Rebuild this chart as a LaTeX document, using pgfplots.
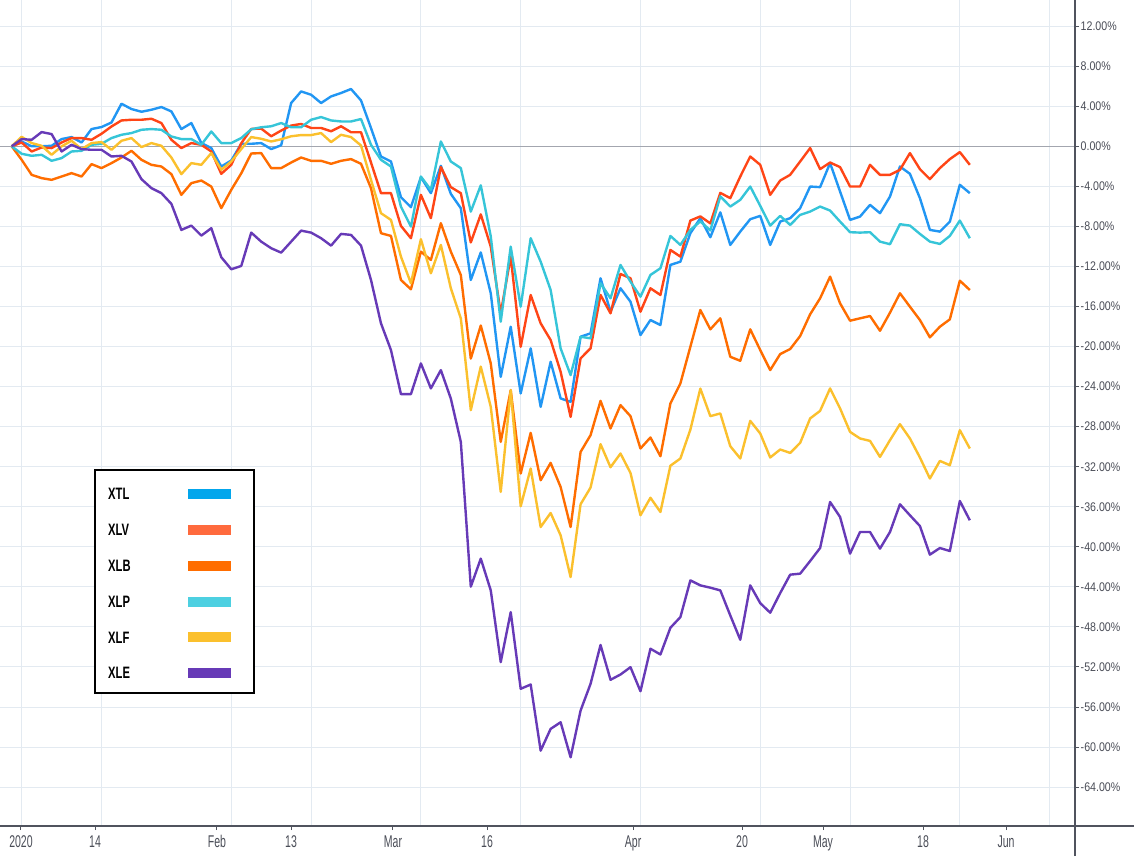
\documentclass[border=0pt]{standalone}
\usepackage{pgfplots}
\pgfplotsset{compat=1.18}
\usepackage{pgfplotstable}
\usepackage{fontspec}
\setmainfont{Liberation Sans}
\newfontfamily\ytfont[FakeStretch=0.85]{Liberation Sans}
\newfontfamily\xtfont[FakeStretch=0.62]{Liberation Sans}
\newfontfamily\lgfont[FakeStretch=0.68]{Liberation Sans}

\definecolor{cXTL}{HTML}{2196F3}
\definecolor{cXLV}{HTML}{FF4516}
\definecolor{cXLB}{HTML}{FF6D00}
\definecolor{cXLP}{HTML}{36C5D8}
\definecolor{cXLF}{HTML}{FBC02D}
\definecolor{cXLE}{HTML}{673AB7}
\definecolor{sXTL}{HTML}{03A6EC}
\definecolor{sXLV}{HTML}{FF6A3D}
\definecolor{sXLP}{HTML}{4DD0E1}
\definecolor{gridcol}{HTML}{E3EAF1}
\definecolor{axiscol}{HTML}{50535E}
\definecolor{zerocol}{HTML}{A3A6AF}
\definecolor{labcol}{HTML}{4A4D57}

\pgfplotstableread{
i xtl xlv xlb xlp xlf xle
0 0 0 0 0 0 0
1 0.48 0.38 -1.35 -0.75 0.95 0.72
2 0.00 -0.52 -2.85 -0.95 0.32 0.65
3 0.00 -0.12 -3.18 -0.85 0.05 1.42
4 0.05 -0.18 -3.35 -1.45 -0.85 1.22
5 0.72 0.38 -3.02 -1.18 0.00 -0.52
6 0.92 0.82 -2.68 -0.52 0.55 0.15
7 0.38 0.82 -3.02 -0.45 -0.28 -0.28
8 1.72 0.65 -1.78 0.15 0.32 -0.35
9 1.92 1.25 -2.18 0.25 0.42 -0.35
10 2.38 1.98 -1.68 0.82 -0.35 -1.02
11 4.25 2.58 -1.12 1.15 0.55 -0.95
12 3.72 2.65 -0.45 1.32 0.82 -1.52
13 3.45 2.65 -1.35 1.65 -0.08 -3.28
14 3.65 2.75 -1.85 1.72 0.32 -4.18
15 3.92 2.32 -2.02 1.65 0.05 -4.68
16 3.48 0.65 -2.78 0.98 -1.12 -5.75
17 1.72 -0.18 -4.85 0.72 -2.78 -8.35
18 2.32 0.32 -3.68 0.72 -1.68 -7.92
19 0.32 0.15 -3.42 0.15 -1.85 -8.92
20 -0.18 -0.52 -4.02 1.48 -0.68 -8.18
21 -2.02 -2.75 -6.18 0.32 -2.35 -11.08
22 -1.42 -1.85 -4.35 0.32 -1.52 -12.28
23 0.25 0.30 -2.70 0.82 -0.28 -11.95
24 0.25 1.73 -0.72 1.70 0.92 -8.62
25 0.32 1.77 -0.68 1.90 0.75 -9.52
26 -0.28 1.00 -2.18 2.00 0.48 -10.18
27 0.10 1.57 -2.18 2.32 0.70 -10.62
28 4.32 2.07 -1.62 1.90 1.00 -9.52
29 5.48 2.23 -1.12 1.90 1.12 -8.42
30 5.15 1.83 -1.45 2.65 1.12 -8.62
31 4.32 1.83 -1.45 2.92 1.32 -9.18
32 4.98 1.50 -1.75 2.58 0.42 -9.92
33 5.32 2.00 -1.45 2.48 1.15 -8.75
34 5.72 1.40 -1.28 2.48 0.92 -8.85
35 4.58 1.40 -1.75 2.72 0.08 -9.92
36 1.82 -1.62 -4.18 0.15 -3.35 -13.35
37 -1.02 -4.68 -8.68 -1.35 -6.68 -17.68
38 -1.52 -4.68 -8.95 -2.02 -7.35 -20.35
39 -5.08 -7.95 -13.35 -6.02 -11.02 -24.75
40 -6.08 -9.18 -14.28 -8.02 -13.68 -24.75
41 -3.08 -4.85 -10.52 -3.02 -9.28 -21.68
42 -4.68 -7.18 -11.35 -4.35 -12.68 -24.18
43 -1.95 -2.08 -7.68 0.48 -9.85 -22.35
44 -4.75 -4.08 -10.52 -1.52 -14.18 -25.20
45 -6.18 -4.68 -12.85 -2.18 -17.18 -29.52
46 -13.35 -9.60 -21.20 -6.52 -26.35 -43.98
47 -10.60 -6.80 -17.90 -3.90 -22.00 -41.18
48 -14.68 -10.02 -21.68 -9.00 -26.02 -44.35
49 -23.02 -16.68 -29.52 -17.52 -34.52 -51.52
50 -18.02 -11.02 -24.35 -10.02 -24.35 -46.52
51 -24.68 -20.02 -32.68 -16.02 -35.95 -54.18
52 -20.18 -14.85 -28.62 -9.18 -32.18 -53.75
53 -26.02 -17.68 -33.35 -11.52 -38.02 -60.35
54 -21.52 -19.35 -31.62 -14.35 -36.62 -58.18
55 -25.18 -22.52 -34.02 -20.18 -38.85 -57.52
56 -25.52 -27.02 -38.02 -22.85 -43.02 -61.02
57 -19.02 -21.18 -30.52 -19.02 -35.75 -56.35
58 -18.68 -20.18 -28.85 -19.18 -34.08 -53.68
59 -13.18 -14.85 -25.42 -13.68 -29.75 -49.80
60 -16.52 -16.68 -28.18 -15.18 -32.05 -53.28
61 -14.18 -12.75 -25.85 -11.85 -30.68 -52.75
62 -15.52 -13.18 -26.95 -13.52 -32.62 -52.02
63 -18.85 -16.52 -30.18 -15.02 -36.85 -54.42
64 -17.35 -14.18 -29.08 -12.85 -35.10 -50.18
65 -17.85 -14.85 -30.95 -12.18 -36.52 -50.75
66 -11.85 -10.35 -25.68 -8.95 -31.90 -48.08
67 -11.52 -11.02 -23.68 -9.85 -31.18 -47.02
68 -8.68 -7.42 -20.02 -8.35 -28.30 -43.35
69 -7.18 -7.00 -16.35 -7.50 -24.20 -43.85
70 -9.08 -7.70 -18.28 -8.40 -26.95 -44.08
71 -6.60 -4.65 -17.18 -5.00 -26.68 -44.35
72 -9.85 -5.18 -21.02 -6.02 -29.95 -46.85
73 -8.52 -3.02 -21.42 -5.35 -31.18 -49.28
74 -7.28 -1.02 -18.28 -4.02 -27.42 -43.85
75 -6.95 -1.85 -20.35 -5.95 -28.68 -45.62
76 -9.85 -4.85 -22.35 -7.92 -31.08 -46.58
77 -7.52 -3.42 -20.75 -6.95 -30.28 -44.62
78 -7.18 -2.85 -20.25 -7.85 -30.62 -42.78
79 -6.18 -1.52 -18.95 -6.85 -29.62 -42.68
80 -4.02 -0.18 -16.78 -6.52 -27.18 -41.42
81 -4.08 -2.28 -15.18 -6.02 -26.42 -40.12
82 -1.68 -1.62 -13.02 -6.42 -24.18 -35.52
83 -4.52 -2.08 -15.68 -7.52 -26.18 -37.02
84 -7.35 -4.02 -17.42 -8.58 -28.52 -40.68
85 -7.02 -4.02 -17.18 -8.62 -29.18 -38.52
86 -5.85 -1.85 -16.95 -8.58 -29.42 -38.52
87 -6.68 -2.85 -18.42 -9.52 -31.02 -40.18
88 -5.02 -2.85 -16.62 -9.78 -29.35 -38.52
89 -2.02 -2.35 -14.68 -7.78 -27.75 -35.75
90 -2.75 -0.68 -16.02 -7.92 -29.18 -36.85
91 -5.18 -2.28 -17.35 -8.75 -31.08 -37.92
92 -8.35 -3.28 -19.08 -9.52 -33.18 -40.78
93 -8.52 -2.18 -18.02 -9.75 -31.42 -40.12
94 -7.52 -1.28 -17.28 -8.95 -31.85 -40.42
95 -3.85 -0.58 -13.42 -7.42 -28.35 -35.42
96 -4.68 -1.85 -14.35 -9.18 -30.18 -37.35
}\datatable

\begin{document}
\begin{tikzpicture}
\begin{axis}[
  at={(0pt,0pt)}, anchor=south west,
  width=1075pt, height=826pt, scale only axis,
  xmin=-1.172, xmax=106.54, ymin=-67.88, ymax=14.61,
  axis x line*=bottom, axis y line*=right,
  axis line style={draw=none},
  xtick={0.93,8.35,20.57,27.99,38.2,47.63,62.26,73.18,81.29,91.31,99.63},
  xticklabels={2020,14,Feb,13,Mar,16,Apr,20,May,18,Jun},
  minor xtick={1,9,22,30,41,51,63,75,84,95,104},
  xminorgrids=true, xmajorgrids=false, ymajorgrids=true,
  minor grid style={gridcol, line width=1pt},
  major grid style={gridcol, line width=1pt},
  ytick={-64,-60,...,12},
  yticklabels={-64.00\%,-60.00\%,-56.00\%,-52.00\%,-48.00\%,-44.00\%,-40.00\%,-36.00\%,-32.00\%,-28.00\%,-24.00\%,-20.00\%,-16.00\%,-12.00\%,-8.00\%,-4.00\%,0.00\%,4.00\%,8.00\%,12.00\%},
  tick align=outside,
  major tick length=4pt, minor tick length=0pt,
  tick style={axiscol, line width=1pt},
  yticklabel style={font=\ytfont\fontsize{12.5}{12.5}\selectfont, text=labcol, anchor=west, inner sep=0pt, xshift=1.5pt},
  xticklabel style={font=\xtfont\fontsize{17}{17}\selectfont, text=labcol, anchor=north, inner sep=0pt, text height=12pt, text depth=0pt, yshift=-5pt},
  every axis plot/.append style={line width=2.4pt, line join=round, mark=none},
]
\draw[zerocol, line width=1.3pt] (axis cs:-1.172,0) -- (axis cs:106.54,0);
\addplot[cXTL] table[x=i, y=xtl] {\datatable};
\addplot[cXLV] table[x=i, y=xlv] {\datatable};
\addplot[cXLB] table[x=i, y=xlb] {\datatable};
\addplot[cXLP] table[x=i, y=xlp] {\datatable};
\addplot[cXLF] table[x=i, y=xlf] {\datatable};
\addplot[cXLE] table[x=i, y=xle] {\datatable};
\end{axis}
% panel borders
\draw[axiscol, line width=1.2pt] (0pt,0pt) -- (1134pt,0pt);
\draw[axiscol, line width=1.2pt] (1075pt,-30pt) -- (1075pt,826pt);
% legend
\fill[white] (95pt,133pt) rectangle (254pt,356pt);
\draw[black, line width=1.5pt] (95pt,133pt) rectangle (254pt,356pt);
\foreach \name/\col [count=\k from 0] in {XTL/sXTL, XLV/sXLV, XLB/cXLB, XLP/sXLP, XLF/cXLF, XLE/cXLE}{
  \pgfmathsetmacro{\yy}{331.7-35.8*\k}
  \node[anchor=west, inner sep=0pt, font=\lgfont\bfseries\fontsize{16.5}{16.5}\selectfont] at (108pt,\yy pt) {\name};
  \fill[\col] (188pt,\yy pt-5pt) rectangle (231pt,\yy pt+5pt);
}
\pgfresetboundingbox
\useasboundingbox (0pt,-30pt) rectangle (1134pt,826pt);
\end{tikzpicture}
\end{document}
